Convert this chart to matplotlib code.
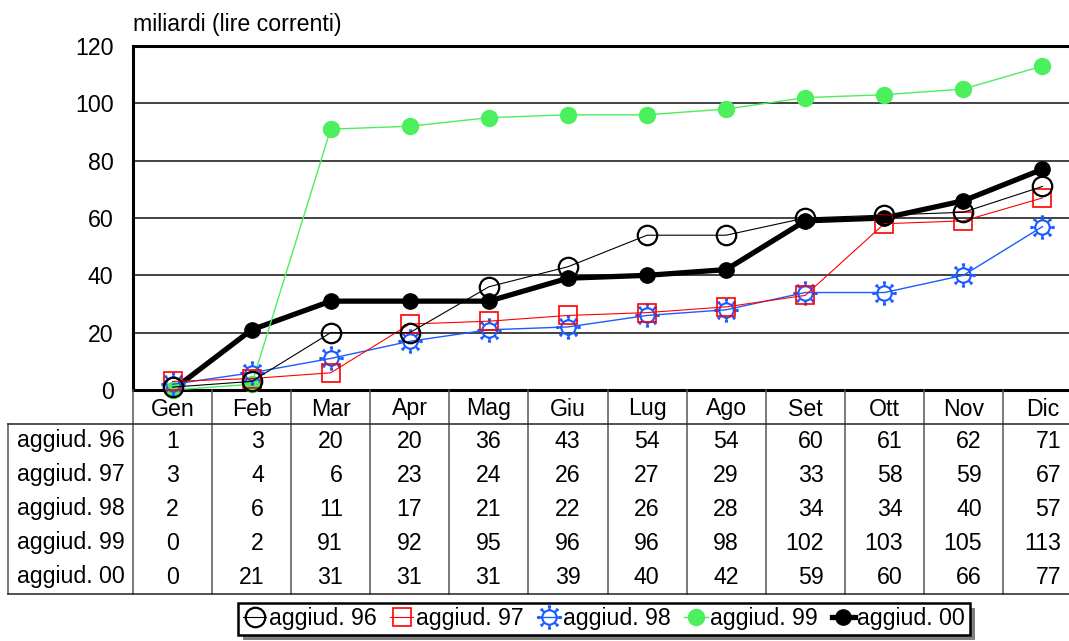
import numpy as np
import matplotlib.pyplot as plt
import matplotlib.transforms as mtransforms
from matplotlib.path import Path
from matplotlib.lines import Line2D
from matplotlib.patches import Rectangle

plt.rcParams['font.family'] = ['Liberation Sans', 'DejaVu Sans']

## Data
mesi = ['Gen', 'Feb', 'Mar', 'Apr', 'Mag', 'Giu', 'Lug', 'Ago', 'Set', 'Ott', 'Nov', 'Dic']
nomi = ['aggiud. 96', 'aggiud. 97', 'aggiud. 98', 'aggiud. 99', 'aggiud. 00']
agg96 = [1, 3, 20, 20, 36, 43, 54, 54, 60, 61, 62, 71]
agg97 = [3, 4, 6, 23, 24, 26, 27, 29, 33, 58, 59, 67]
agg98 = [2, 6, 11, 17, 21, 22, 26, 28, 34, 34, 40, 57]
agg99 = [0, 2, 91, 92, 95, 96, 96, 98, 102, 103, 105, 113]
agg00 = [0, 21, 31, 31, 31, 39, 40, 42, 59, 60, 66, 77]
valori = [agg96, agg97, agg98, agg99, agg00]
y_ticks = [0, 20, 40, 60, 80, 100, 120]

W, H = 1069, 641
FS = 16.7

def fx(px):
    return px / W

def fy(py):
    return 1 - py / H

# circle with 8 capped spikes (the "sun" marker)
def sun_marker():
    verts, codes = [], []
    for k in range(8):
        a = np.pi / 4 * k
        c, s = np.cos(a), np.sin(a)
        verts += [(1.0 * c, 1.0 * s), (1.55 * c, 1.55 * s),
                  (1.55 * c - 0.22 * s, 1.55 * s + 0.22 * c),
                  (1.55 * c + 0.22 * s, 1.55 * s - 0.22 * c)]
        codes += [Path.MOVETO, Path.LINETO, Path.MOVETO, Path.LINETO]
    return Path.make_compound_path(Path.unit_circle(), Path(verts, codes))

stili = [
    dict(color='black', lw=0.8, marker='o', ms=14, mfc='none', mec='black', mew=1.6),
    dict(color='#ff0000', lw=0.8, marker='s', ms=13.5, mfc='none', mec='#ff0000', mew=1.2),
    dict(color='#1a5cff', lw=1.0, marker=sun_marker(), ms=16, mfc='none', mec='#1a5cff', mew=1.5),
    dict(color='#4cef5c', lw=1.0, marker='o', ms=11.5, mfc='#4cef5c', mec='#4cef5c', mew=1),
    dict(color='black', lw=3.8, marker='o', ms=11, mfc='black', mec='black', mew=1),
]

fig = plt.figure(figsize=(W / 100, H / 100), dpi=100)
ax = fig.add_axes([fx(133), fy(390), fx(949), (390 - 46) / H])

x = np.arange(len(mesi))
handles = []
# first series ends up on top
for k, (nome, vals, st) in enumerate(zip(nomi, valori, stili)):
    ln, = ax.plot(x, vals, label=nome, clip_on=False, zorder=10 - k, **st)
    handles.append(ln)

ax.set_xlim(-0.5, len(mesi) - 0.5)
ax.set_ylim(0, 120)
ax.set_yticks(y_ticks)
ax.set_xticks([])
ax.tick_params(axis='y', length=0, pad=14, labelsize=FS)
for y in y_ticks[1:-1]:
    ax.axhline(y, color='#222222', lw=1.2, zorder=1)
for side in ['left', 'bottom', 'top', 'right']:
    ax.spines[side].set_linewidth(2.2)
    ax.spines[side].set_color('black')

fig.text(fx(133), fy(25), 'miliardi (lire correnti)', fontsize=FS, ha='left', va='center')

## Data table under the plot
tr = mtransforms.blended_transform_factory(ax.transData, fig.transFigure)
row_top, row_h = 424, 34
bottom = row_top + row_h * len(nomi)

for k in range(len(mesi) + 1):
    fig.add_artist(Line2D([k - 0.5, k - 0.5], [fy(390), fy(bottom)], transform=tr,
                          color='#555555', lw=1.1))
fig.add_artist(Line2D([fx(8), fx(8)], [fy(row_top), fy(bottom)], color='#555555', lw=1.1))
for py in [row_top, bottom]:
    fig.add_artist(Line2D([fx(8), 1.0], [fy(py), fy(py)], color='#222222', lw=1.1))

for i, m in enumerate(mesi):
    fig.text(i, fy(409), m, transform=tr, fontsize=FS, ha='center', va='center')

digit_w = 12.4 / 79.1  # width of one digit in category units
for r, (nome, vals) in enumerate(zip(nomi, valori)):
    yc = fy(row_top + row_h * (r + 0.5))
    fig.text(fx(125), yc, nome, fontsize=FS, ha='right', va='center')
    for i in range(len(mesi)):
        nd = max(len(str(v[i])) for v in valori)
        fig.text(i + nd * digit_w / 2, yc, str(vals[i]), transform=tr,
                 fontsize=FS, ha='right', va='center')

## Legend with a solid offset shadow
leg = fig.legend(handles, nomi, loc='center', bbox_to_anchor=(fx(604), fy(619)),
                 ncol=5, fancybox=False, edgecolor='black', framealpha=1,
                 handlelength=1.0, handletextpad=0.1, columnspacing=0.6,
                 borderpad=0.2, borderaxespad=0, fontsize=FS)
leg.get_frame().set_linewidth(1.8)
leg.set_zorder(6)
fig.canvas.draw()
bb = leg.get_window_extent()
fig.add_artist(Rectangle(((bb.x0 + 5) / W, (bb.y0 - 5) / H), bb.width / W, bb.height / H,
                         transform=fig.transFigure, facecolor='#808080', edgecolor='none',
                         zorder=5))

fig.savefig('out.png', dpi=100)
